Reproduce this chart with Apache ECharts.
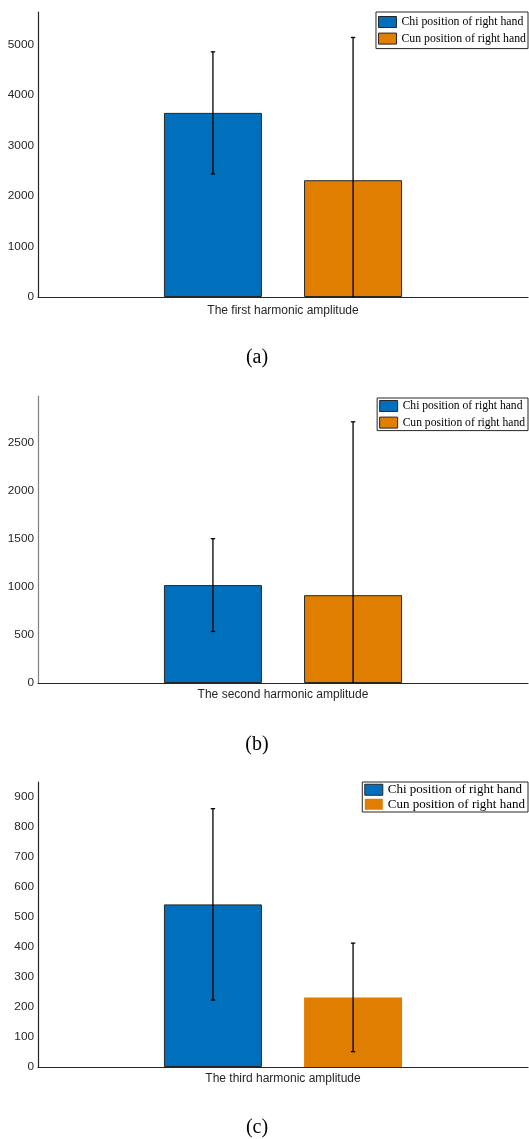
<!DOCTYPE html>
<html>
<head>
<meta charset="utf-8">
<script src="https://cdn.jsdelivr.net/npm/echarts@6/dist/echarts.min.js"></script>
<style>
  html, body { margin: 0; padding: 0; background: #ffffff; }
  #chart { width: 529px; height: 1139px; }
</style>
</head>
<body>
<div id="chart"></div>
<script>
// ---- data ----
const categories = ['The first harmonic amplitude', 'The second harmonic amplitude', 'The third harmonic amplitude'];
const seriesNames = ['Chi position of right hand', 'Cun position of right hand'];
const chiMeans = [3650, 1020, 542];
const chiErrors = [1210, 483, 319];
const cunMeans = [2315, 915, 232];
const cunErrors = [2830, 1806, 181];
const yMaxes = [5650, 2990, 950];
const yIntervals = [1000, 500, 100];
const panelLabels = ['(a)', '(b)', '(c)'];

// ---- layout / style ----
const BLUE = '#0070BD';
const ORANGE = '#DF7E00';
const DARK = '#262626';
const SERIF = "'Liberation Serif', 'Times New Roman', serif";
const SANS = "'Liberation Sans', Arial, sans-serif";
const BAR_W = 0.2;      // fraction of category band
const BAR_GAP = 0.43;   // fraction of bar width
const grids = [
  { left: 38, top: 12, width: 490, height: 285 },
  { left: 38, top: 396, width: 490, height: 287 },
  { left: 38, top: 782, width: 490, height: 285 }
];
const xLabelMargins = [8, 6, 5.5];
const yAxisColors = [DARK, '#7f7f7f', DARK];
const legendCfg = [
  { top: 12, fontSize: 11.8, lineHeight: 14, itemGap: 2.6, padding: [3, 2, 3, 2] },
  { top: 398, fontSize: 11.6, lineHeight: 14, itemGap: 2.6, padding: [1, 3, 1, 2] },
  { top: 782, fontSize: 13.0, lineHeight: 13.5, itemGap: 1, padding: [1, 3, 1, 2] }
];
const labelY = [358, 745, 1128];

function errRender(sign) {
  return function (params, api) {
    const cat = api.value(0);
    const mean = api.value(1);
    const err = api.value(2);
    const base = api.coord([cat, mean]);
    const band = api.size([1, 0])[0];
    const cx = base[0] + sign * band * BAR_W * (1 + BAR_GAP) / 2;
    const hiV = mean + err;
    const loRaw = mean - err;
    const loV = Math.max(loRaw, 0);
    const yHi = api.coord([cat, hiV])[1];
    const yLo = api.coord([cat, loV])[1];
    const cap = 2.2;
    const style = { stroke: '#000', lineWidth: 1.3 };
    const children = [
      { type: 'line', shape: { x1: cx, y1: yHi, x2: cx, y2: yLo }, style: style },
      { type: 'line', shape: { x1: cx - cap, y1: yHi, x2: cx + cap, y2: yHi }, style: style }
    ];
    if (loRaw >= 0) {
      children.push({ type: 'line', shape: { x1: cx - cap, y1: yLo, x2: cx + cap, y2: yLo }, style: style });
    }
    return { type: 'group', children: children };
  };
}

const option = {
  backgroundColor: '#ffffff',
  animation: false,
  grid: grids.map(g => Object.assign({ containLabel: false }, g)),
  xAxis: categories.map((c, i) => ({
    type: 'category',
    gridIndex: i,
    data: [c],
    boundaryGap: true,
    axisLine: { show: true, lineStyle: { color: DARK, width: 1.2 } },
    axisTick: { show: false },
    axisLabel: { color: DARK, fontFamily: SANS, fontSize: 12, margin: xLabelMargins[i] },
    splitLine: { show: false }
  })),
  yAxis: yMaxes.map((m, i) => ({
    type: 'value',
    gridIndex: i,
    min: 0,
    max: m,
    interval: yIntervals[i],
    axisLine: { show: true, lineStyle: { color: yAxisColors[i], width: 1.2 } },
    axisTick: { show: false },
    splitLine: { show: false },
    axisLabel: {
      color: DARK, fontFamily: SANS, fontSize: 11.8, margin: 4,
      formatter: v => (v % yIntervals[i] === 0 ? String(v) : '')
    }
  })),
  legend: legendCfg.map((l, i) => ({
    orient: 'vertical',
    right: 1,
    top: l.top,
    backgroundColor: '#ffffff',
    borderColor: DARK,
    borderWidth: 1,
    borderRadius: 0,
    padding: l.padding,
    itemGap: l.itemGap,
    itemWidth: 18,
    itemHeight: 11,
    icon: 'rect',
    selectedMode: false,
    textStyle: { fontFamily: SERIF, fontSize: l.fontSize, lineHeight: l.lineHeight, color: '#000' },
    data: [
      { name: seriesNames[0], itemStyle: { color: BLUE, borderColor: DARK, borderWidth: 1 } },
      { name: seriesNames[1], itemStyle: i === 2 ? { color: ORANGE, borderWidth: 0 } : { color: ORANGE, borderColor: DARK, borderWidth: 1 } }
    ]
  })),
  graphic: panelLabels.map((t, i) => ({
    type: 'text',
    x: 257,
    y: labelY[i],
    style: { text: t, font: '20px ' + SERIF, fill: '#000', textAlign: 'center', textVerticalAlign: 'middle' }
  })),
  series: []
};

for (let i = 0; i < 3; i++) {
  option.series.push({
    type: 'bar', name: seriesNames[0], xAxisIndex: i, yAxisIndex: i,
    data: [chiMeans[i]],
    barWidth: (BAR_W * 100) + '%', barGap: (BAR_GAP * 100) + '%',
    itemStyle: { color: BLUE, borderColor: DARK, borderWidth: 1 }
  });
  option.series.push({
    type: 'bar', name: seriesNames[1], xAxisIndex: i, yAxisIndex: i,
    data: [cunMeans[i]],
    barWidth: (BAR_W * 100) + '%', barGap: (BAR_GAP * 100) + '%',
    itemStyle: i === 2 ? { color: ORANGE, borderWidth: 0 } : { color: ORANGE, borderColor: DARK, borderWidth: 1 }
  });
  option.series.push({
    type: 'custom', name: 'err-chi-' + i, xAxisIndex: i, yAxisIndex: i,
    renderItem: errRender(-1), z: 5,
    encode: { x: 0, y: 1 },
    data: [[0, chiMeans[i], chiErrors[i]]]
  });
  option.series.push({
    type: 'custom', name: 'err-cun-' + i, xAxisIndex: i, yAxisIndex: i,
    renderItem: errRender(1), z: 5,
    encode: { x: 0, y: 1 },
    data: [[0, cunMeans[i], cunErrors[i]]]
  });
}

const chart = echarts.init(document.getElementById('chart'), null, { renderer: 'canvas' });
chart.setOption(option);
</script>
</body>
</html>
